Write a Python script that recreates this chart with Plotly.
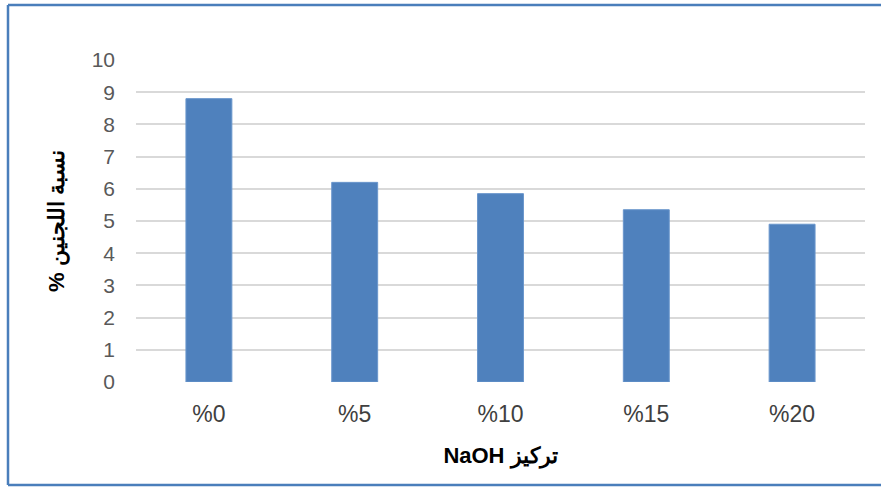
import plotly.graph_objects as go

categories = ["%0", "%5", "%10", "%15", "%20"]
lignin = [8.8, 6.2, 5.85, 5.35, 4.9]
y_ticks = [0, 1, 2, 3, 4, 5, 6, 7, 8, 9, 10]

W, H = 881, 487
L, R, T, B = 136, 16, 60, 105
pw, ph = W - L - R, H - T - B

def px_x(p):
    return (p - L) / pw

def px_y(p):
    return (H - B - p) / ph

fig = go.Figure()
fig.add_trace(go.Bar(
    x=categories, y=lignin,
    marker=dict(color="#4F81BD", line=dict(color="#6A96CC", width=1)),
    width=0.315,
))

border = dict(color="#4A7EBB", width=2.5)
shapes = [
    dict(type="line", xref="paper", yref="paper", x0=px_x(8), x1=px_x(8), y0=px_y(5), y1=px_y(485), line=border),
    dict(type="line", xref="paper", yref="paper", x0=px_x(8), x1=px_x(890), y0=px_y(5), y1=px_y(5), line=border),
    dict(type="line", xref="paper", yref="paper", x0=px_x(8), x1=px_x(890), y0=px_y(485), y1=px_y(485), line=border),
]

fig.update_layout(
    width=W, height=H,
    margin=dict(l=L, r=R, t=T, b=B),
    plot_bgcolor="white", paper_bgcolor="white",
    showlegend=False,
    shapes=shapes,
    font=dict(family="Liberation Sans, Arial, sans-serif", color="#595959", size=20),
    xaxis=dict(
        showgrid=False, zeroline=False, showline=False,
        tickfont=dict(size=23, color="#404040"),
        ticklabelstandoff=16,
        title=dict(text="NaOH تركيز", font=dict(size=22, color="#000000", family="Liberation Sans, Arial, sans-serif", weight="bold"), standoff=21),
    ),
    yaxis=dict(
        range=[0, 10], tickvals=y_ticks,
        showgrid=True, gridcolor="#D9D9D9", gridwidth=1.5,
        zeroline=False, showline=False,
        tickfont=dict(size=21, color="#595959"),
        ticklabelstandoff=20,
        title=dict(text="% نسبة اللجنين", font=dict(size=22, color="#000000", family="Liberation Sans, Arial, sans-serif", weight="bold"), standoff=20),
    ),
)

fig.write_html("out.html", config={"displayModeBar": False},
               post_script="document.body.style.margin='0';")
